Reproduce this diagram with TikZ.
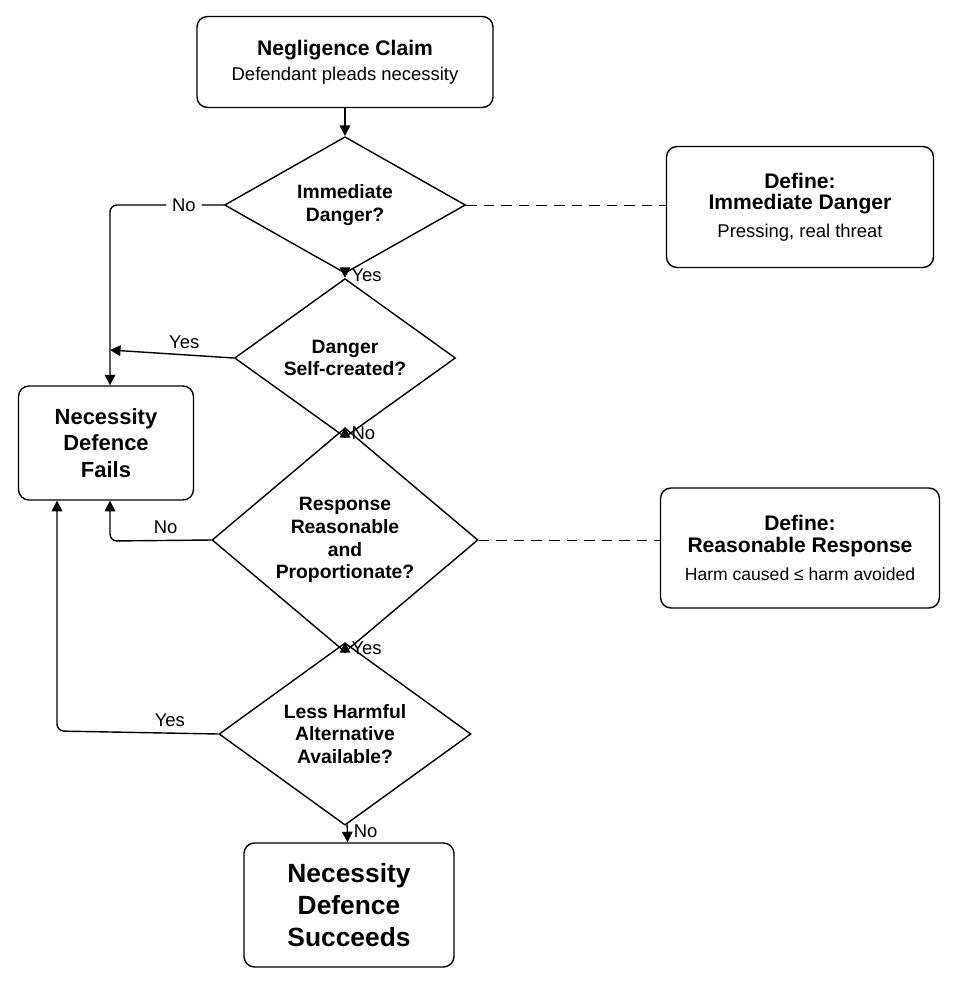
\documentclass[tikz,border=0pt]{standalone}
\usepackage{fontspec}
\setmainfont{Liberation Sans}
\usetikzlibrary{shapes.geometric,arrows.meta}
\begin{document}
\begin{tikzpicture}[x=0.02cm,y=-0.02cm,
    box/.style={draw,rounded corners=6pt,line width=0.8pt,align=center},
    decision/.style={draw,diamond,line width=0.8pt,align=center,inner sep=0pt,font=\fontsize{11}{13}\selectfont\bfseries},
    arr/.style={-{Triangle[length=6pt,width=6pt]},line width=0.8pt},
    lbl/.style={font=\fontsize{10.5}{12}\selectfont}]
  \useasboundingbox (0,0) rectangle (958,985);
  % boxes
  \node[box,minimum width=296*0.02cm,minimum height=91*0.02cm] (claim) at (345,62)
    {{\fontsize{12}{15}\selectfont\bfseries Negligence Claim}\\[2pt]{\fontsize{10.5}{12}\selectfont Defendant pleads necessity}};
  \node[box,minimum width=175*0.02cm,minimum height=114*0.02cm,font=\fontsize{12.5}{15}\selectfont\bfseries] (fails) at (106,443)
    {Necessity\\Defence\\Fails};
  \node[box,minimum width=210*0.02cm,minimum height=124*0.02cm,font=\fontsize{15}{18}\selectfont\bfseries] (succ) at (349,905)
    {Necessity\\Defence\\Succeeds};
  \node[box,minimum width=267*0.02cm,minimum height=121*0.02cm] (def1) at (800,207)
    {{\fontsize{12}{15}\selectfont\bfseries Define:}\\{\fontsize{12}{15}\selectfont\bfseries Immediate Danger}\\[4pt]{\fontsize{10.5}{12}\selectfont Pressing, real threat}};
  \node[box,minimum width=279*0.02cm,minimum height=120*0.02cm] (def2) at (800,548)
    {{\fontsize{12}{15}\selectfont\bfseries Define:}\\{\fontsize{12}{15}\selectfont\bfseries Reasonable Response}\\[4pt]{\fontsize{10}{12}\selectfont Harm caused ≤ harm avoided}};
  % decisions
  \node[decision,minimum width=241*0.02cm,minimum height=115*0.02cm] (d1) at (345,205) {Immediate\\Danger?};
  \node[decision,minimum width=221*0.02cm,minimum height=120*0.02cm] (d2) at (345,358) {Danger\\Self-created?};
  \node[decision,minimum width=266*0.02cm,minimum height=186*0.02cm] (d3) at (345,540) {Response\\Reasonable\\and\\Proportionate?};
  \node[decision,minimum width=252*0.02cm,minimum height=147*0.02cm] (d4) at (345,734) {Less Harmful\\Alternative\\Available?};
  % main flow
  \draw[arr] (claim) -- (d1);
  \draw[arr] (d1) -- node[lbl,right,pos=0.4] {Yes} (d2);
  \draw[arr] (d2) -- node[lbl,right,pos=0.4] {No} (d3);
  \draw[arr] (d3) -- node[lbl,right,pos=0.4] {Yes} (d4);
  \draw[arr] (d4) -- node[lbl,right,pos=0.4] {No} (succ);
  % failure branches
  \draw[arr,rounded corners=4pt] (d1.west) -- node[lbl,fill=white,pos=0.35] {No} (110,205) -- (fails.north -| 110,0);
  \draw[arr] (d2.west) -- node[lbl,above,pos=0.4] {Yes} (110,350);
  \draw[arr,rounded corners=4pt] (d3.west) -- node[lbl,above,pos=0.45] {No} (110,541) -- (fails.south -| 110,0);
  \draw[arr,rounded corners=4pt] (d4.west) -- node[lbl,above,pos=0.3] {Yes} (57,731) -- (fails.south -| 57,0);
  % definitions
  \draw[dashed,dash pattern=on 6pt off 4pt] (d1.east) -- (def1.west |- d1.east);
  \draw[dashed,dash pattern=on 6pt off 4pt] (d3.east) -- (def2.west |- d3.east);
\end{tikzpicture}
\end{document}
